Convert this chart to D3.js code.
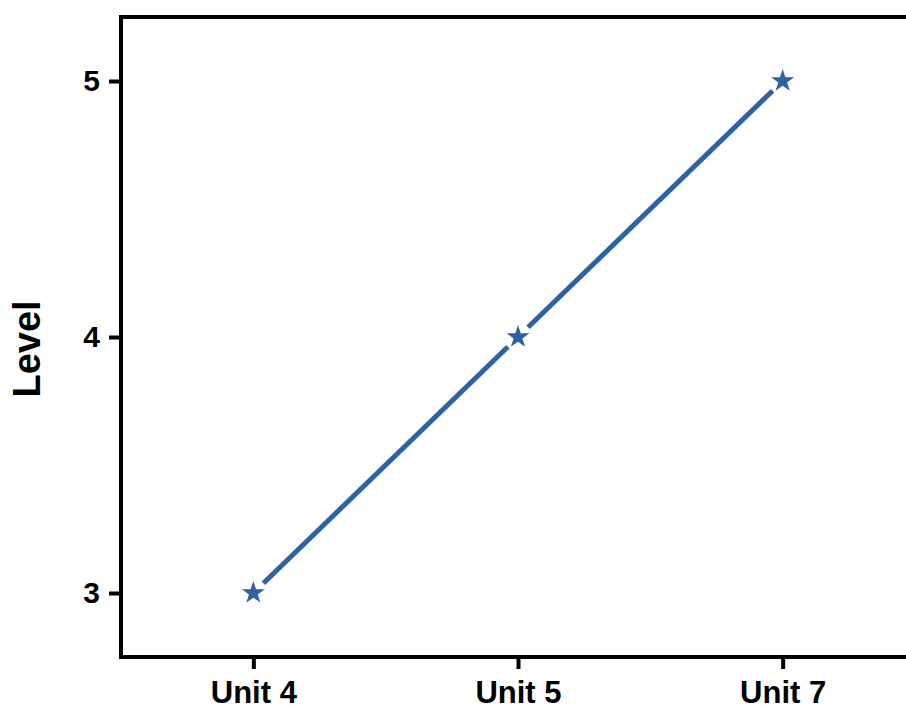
<!DOCTYPE html>
<html><head><meta charset="utf-8">
<script src="https://cdn.jsdelivr.net/npm/d3@7"></script>
<style>body{margin:0;background:#fff;} svg{display:block;}</style>
</head><body>
<script>
const categories = ["Unit 4", "Unit 5", "Unit 7"];
const levels = [3, 4, 5];
const yTicks = [3, 4, 5];
const yLabel = "Level";

(function () {
const W = 906, H = 710;
const mLeft = 121, mTop = 17, mBottom = 657, mRightEnd = 915;
const color = "#2d63a3";
const font = "'Liberation Sans', Arial, sans-serif";

const svg = d3.select("body").append("svg").attr("width", W).attr("height", H);

const x = d3.scalePoint().domain(categories).range([mLeft, mRightEnd]).padding(0.5);
const y = d3.scaleLinear().domain([2.75, 5.25]).range([mBottom, mTop]);

// frame (top, left, bottom)
svg.append("path")
  .attr("d", `M${mRightEnd},${mTop}H${mLeft}V${mBottom}H${mRightEnd}`)
  .attr("fill", "none").attr("stroke", "#000").attr("stroke-width", 4);

const yAxis = svg.append("g").attr("transform", `translate(${mLeft},0)`)
  .call(d3.axisLeft(y).tickValues(yTicks).tickFormat(d3.format("d")).tickSize(12).tickPadding(9));
yAxis.select(".domain").remove();
yAxis.selectAll(".tick line").attr("stroke", "#000").attr("stroke-width", 4);
yAxis.selectAll(".tick text").attr("font-family", font).attr("font-weight", "bold")
  .attr("font-size", 30).attr("fill", "#000");

const xAxis = svg.append("g").attr("transform", `translate(0,${mBottom})`)
  .call(d3.axisBottom(x).tickSize(12).tickPadding(12));
xAxis.select(".domain").remove();
xAxis.selectAll(".tick line").attr("stroke", "#000").attr("stroke-width", 4);
xAxis.selectAll(".tick text").attr("font-family", font).attr("font-weight", "bold")
  .attr("font-size", 31).attr("fill", "#000");

svg.append("text")
  .attr("transform", `translate(40,349) rotate(-90)`)
  .attr("text-anchor", "middle")
  .attr("font-family", font).attr("font-weight", "bold").attr("font-size", 38)
  .text(yLabel);

const pts = categories.map((c, i) => [x(c), y(levels[i])]);
const gap = 14;
for (let i = 0; i < pts.length - 1; i++) {
  const [x1, y1] = pts[i], [x2, y2] = pts[i + 1];
  const dx = x2 - x1, dy = y2 - y1, L = Math.hypot(dx, dy);
  const ux = dx / L, uy = dy / L;
  svg.append("line")
    .attr("x1", x1 + ux * gap).attr("y1", y1 + uy * gap)
    .attr("x2", x2 - ux * gap).attr("y2", y2 - uy * gap)
    .attr("stroke", color).attr("stroke-width", 5);
}

svg.selectAll(".star").data(pts).join("path")
  .attr("class", "star")
  .attr("transform", d => `translate(${d[0]},${d[1]})`)
  .attr("d", d3.symbol(d3.symbolStar, 165))
  .attr("fill", color);
})();
</script>
</body></html>
